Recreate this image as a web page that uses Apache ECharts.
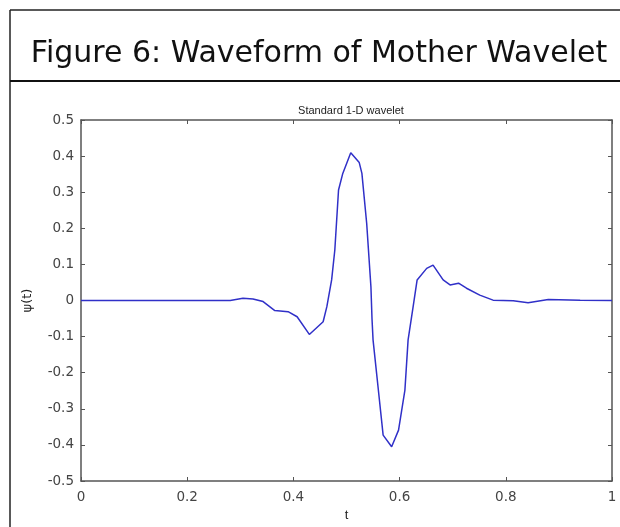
<!DOCTYPE html>
<html>
<head>
<meta charset="utf-8">
<script src="https://cdn.jsdelivr.net/npm/echarts@6/dist/echarts.min.js"></script>
<style>
html,body{margin:0;padding:0;background:#fff;}
#chart{width:620px;height:527px;}
</style>
</head>
<body>
<div id="chart"></div>
<script>
// Data
var tValues = [0, 0.281, 0.305, 0.324, 0.343, 0.365, 0.390, 0.407, 0.430, 0.456, 0.463, 0.472, 0.478, 0.485, 0.493, 0.508, 0.524, 0.529, 0.538, 0.546, 0.548, 0.550, 0.560, 0.569, 0.585, 0.598, 0.610, 0.616, 0.625, 0.633, 0.651, 0.663, 0.682, 0.695, 0.711, 0.726, 0.751, 0.776, 0.814, 0.842, 0.880, 0.940, 1.0];
var psiValues = [0, 0, 0.006, 0.004, -0.003, -0.028, -0.031, -0.045, -0.094, -0.059, -0.017, 0.057, 0.14, 0.306, 0.352, 0.409, 0.382, 0.352, 0.214, 0.038, -0.05, -0.109, -0.248, -0.373, -0.405, -0.359, -0.248, -0.109, -0.022, 0.057, 0.089, 0.098, 0.057, 0.043, 0.048, 0.034, 0.015, 0.001, -0.001, -0.006, 0.003, 0.001, 0];
var xTickLabels = ['0', '0.2', '0.4', '0.6', '0.8', '1'];
var yTickLabels = ['-0.5', '-0.4', '-0.3', '-0.2', '-0.1', '0', '0.1', '0.2', '0.3', '0.4', '0.5'];
var figureTitle = 'Figure 6: Waveform of Mother Wavelet';
var plotTitle = 'Standard 1-D wavelet';
var xName = 't';
var yName = 'ψ(t)';

var seriesData = tValues.map(function (t, i) { return [t, psiValues[i]]; });
function fmtX(v) { var i = Math.round(v / 0.2); return xTickLabels[i] !== undefined ? xTickLabels[i] : ''; }
function fmtY(v) { var i = Math.round((v + 0.5) / 0.1); return yTickLabels[i] !== undefined ? yTickLabels[i] : ''; }

var axisColor = '#555555';
var labelStyle = { color: '#444444', fontFamily: 'DejaVu Sans, sans-serif', fontSize: 13.5 };

var chart = echarts.init(document.getElementById('chart'), null, { renderer: 'canvas' });
chart.setOption({
  animation: false,
  backgroundColor: '#ffffff',
  title: [
    { text: figureTitle, left: 314, textAlign: 'center', top: 34, textStyle: { fontFamily: 'DejaVu Sans, sans-serif', fontSize: 30, fontWeight: 'normal', color: '#111111' } },
    { text: plotTitle, left: 346, textAlign: 'center', top: 100, textStyle: { fontFamily: 'Liberation Sans, Arial, sans-serif', fontSize: 11, fontWeight: 'normal', color: '#222222' } }
  ],
  graphic: [
    { type: 'line', shape: { x1: 10, y1: 10, x2: 620, y2: 10 }, style: { stroke: '#222', lineWidth: 1.5 } },
    { type: 'line', shape: { x1: 10, y1: 10, x2: 10, y2: 527 }, style: { stroke: '#222', lineWidth: 1.5 } },
    { type: 'line', shape: { x1: 10, y1: 81, x2: 620, y2: 81 }, style: { stroke: '#111', lineWidth: 2 } }
  ],
  grid: { left: 81, right: 8, top: 120, bottom: 46, containLabel: false },
  xAxis: [
    {
      type: 'value', min: 0, max: 1, interval: 0.2, position: 'bottom',
      name: xName, nameLocation: 'middle', nameGap: 28,
      nameTextStyle: { color: '#222', fontFamily: 'Liberation Sans, Arial, sans-serif', fontSize: 13 },
      axisLine: { show: true, onZero: false, lineStyle: { color: axisColor, width: 1.5 } },
      axisTick: { show: true, inside: true, length: 4, lineStyle: { color: axisColor } },
      axisLabel: Object.assign({ margin: 9, formatter: fmtX }, labelStyle),
      splitLine: { show: false }
    },
    {
      type: 'value', min: 0, max: 1, interval: 0.2, position: 'top',
      axisLine: { show: true, onZero: false, lineStyle: { color: axisColor, width: 1.5 } },
      axisTick: { show: true, inside: true, length: 4, lineStyle: { color: axisColor } },
      axisLabel: { show: false }, splitLine: { show: false }
    }
  ],
  yAxis: [
    {
      type: 'value', min: -0.5, max: 0.5, interval: 0.1, position: 'left',
      name: yName, nameLocation: 'middle', nameGap: 47, nameRotate: 90,
      nameTextStyle: { color: '#222', fontFamily: 'DejaVu Sans, sans-serif', fontSize: 13 },
      axisLine: { show: true, onZero: false, lineStyle: { color: axisColor, width: 1.5 } },
      axisTick: { show: true, inside: true, length: 4, lineStyle: { color: axisColor } },
      axisLabel: Object.assign({ margin: 7, formatter: fmtY }, labelStyle),
      splitLine: { show: false }
    },
    {
      type: 'value', min: -0.5, max: 0.5, interval: 0.1, position: 'right',
      axisLine: { show: true, onZero: false, lineStyle: { color: axisColor, width: 1.5 } },
      axisTick: { show: true, inside: true, length: 4, lineStyle: { color: axisColor } },
      axisLabel: { show: false }, splitLine: { show: false }
    }
  ],
  series: [{
    type: 'line', xAxisIndex: 0, yAxisIndex: 0,
    data: seriesData, showSymbol: false, smooth: false,
    lineStyle: { color: '#3030c8', width: 1.5 }
  }]
});
</script>
</body>
</html>
